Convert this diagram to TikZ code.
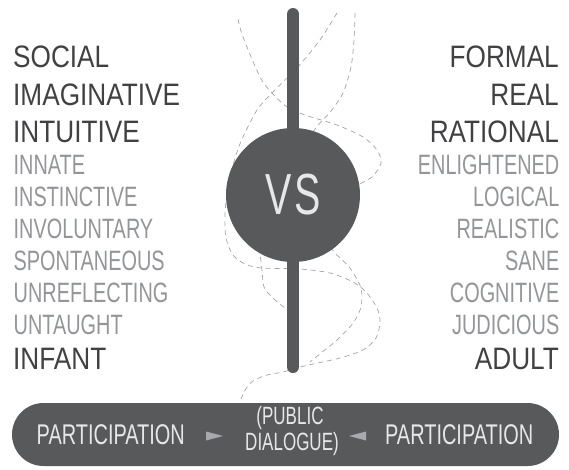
\documentclass[tikz,border=0pt]{standalone}
\usepackage{fontspec}
\usepackage{graphicx}
\setmainfont{Liberation Sans}
\definecolor{shapegray}{HTML}{58595B}
\definecolor{darktext}{HTML}{414042}
\definecolor{lighttext}{HTML}{939598}
\definecolor{vstext}{HTML}{E6E7E8}
\definecolor{dashgray}{HTML}{A3A3A3}
\definecolor{tricolor}{HTML}{A7A9AC}
\newcommand{\BigWord}[1]{\scalebox{0.845}[1]{#1}}
\newcommand{\SmallWord}[1]{\scalebox{0.71}[1]{#1}}
\newcommand{\PillWord}[1]{\scalebox{0.70}[1]{#1}}
\newcommand{\TinyWord}[1]{\scalebox{0.68}[1]{#1}}
\begin{document}
\begin{tikzpicture}[x=1pt,y=-1pt,
  bigword/.style={inner sep=0pt, text=darktext, font=\fontsize{31}{32}\selectfont},
  smallword/.style={inner sep=0pt, text=lighttext, font=\fontsize{28}{29}\selectfont},
  leftcol/.style={anchor=base west},
  rightcol/.style={anchor=base east},
  curve/.style={draw=dashgray, line width=0.7pt, dash pattern=on 5pt off 4pt},
  pill/.style={fill=shapegray, rounded corners=31.5pt, inner sep=0pt, minimum width=547pt, minimum height=63pt},
  pilltext/.style={inner sep=0pt, text=vstext, font=\fontsize{28.5}{29}\selectfont},
  pubtext/.style={inner sep=0pt, text=vstext, font=\fontsize{25}{26}\selectfont, anchor=base},
  disc/.style={circle, fill=shapegray, minimum size=134pt, inner sep=0pt, text=vstext, font=\fontsize{58}{60}\selectfont},
  bar/.style={draw=shapegray, line width=12pt, line cap=round}
]
\useasboundingbox (0,0) rectangle (569,469);

% dashed curves (behind)
\draw[curve] plot[smooth] coordinates {(238,19) (243,37) (260,77) (272,93) (287,107) (305,115) (337,125) (363,137) (377,150) (381,163) (372,177) (355,186)};
\draw[curve] plot[smooth] coordinates {(337,13) (320,40) (298,67) (287,78) (270,95) (257,110) (243,137) (236,155) (228,185) (225,215) (226,238) (233,255) (245,264) (262,268) (300,269) (330,273) (353,282) (366,292) (377,308) (380,322) (376,338) (363,350) (340,358) (313,364) (300,367) (283,372) (267,375) (253,381) (245,390) (240,402)};
\draw[curve] plot[smooth] coordinates {(355,13) (354,40) (351,67) (343,93) (331,111) (320,123) (308,138)};
\draw[curve] plot[smooth] coordinates {(255,240) (260,255) (262,270) (264,287) (273,298) (285,308) (293,313)};
\draw[curve] plot[smooth] coordinates {(325,240) (335,253) (350,268) (361,288) (361,307) (353,323) (337,340) (321,353) (310,362)};

% bar and disc
\coordinate (bartop) at (293,14);
\coordinate (barbot) at (293,367);
\draw[bar] (bartop) -- (barbot);
\node[disc] (vs) at (293,195) {\scalebox{0.68}[1]{V\kern4pt S}};

% left column
\node[bigword, leftcol] (l1) at (13,67) {\BigWord{SOCIAL}};
\node[bigword, leftcol] (l2) at (13,105) {\BigWord{IMAGINATIVE}};
\node[bigword, leftcol] (l3) at (13,142) {\BigWord{INTUITIVE}};
\node[smallword, leftcol] (l4) at (13.5,174) {\SmallWord{INNATE}};
\node[smallword, leftcol] (l5) at (13.5,206) {\SmallWord{INSTINCTIVE}};
\node[smallword, leftcol] (l6) at (13.5,238) {\SmallWord{INVOLUNTARY}};
\node[smallword, leftcol] (l7) at (13.5,270) {\SmallWord{SPONTANEOUS}};
\node[smallword, leftcol] (l8) at (13.5,302) {\SmallWord{UNREFLECTING}};
\node[smallword, leftcol] (l9) at (13.5,334) {\SmallWord{UNTAUGHT}};
\node[bigword, leftcol] (l10) at (13,369) {\BigWord{INFANT}};

% right column
\node[bigword, rightcol] (r1) at (559,67) {\BigWord{FORMAL}};
\node[bigword, rightcol] (r2) at (559,105) {\BigWord{REAL}};
\node[bigword, rightcol] (r3) at (559,142) {\BigWord{RATIONAL}};
\node[smallword, rightcol] (r4) at (559.5,174) {\SmallWord{ENLIGHTENED}};
\node[smallword, rightcol] (r5) at (559.5,206) {\SmallWord{LOGICAL}};
\node[smallword, rightcol] (r6) at (559.5,238) {\SmallWord{REALISTIC}};
\node[smallword, rightcol] (r7) at (559.5,270) {\SmallWord{SANE}};
\node[smallword, rightcol] (r8) at (559.5,302) {\SmallWord{COGNITIVE}};
\node[smallword, rightcol] (r9) at (559.5,334) {\SmallWord{JUDICIOUS}};
\node[bigword, rightcol] (r10) at (559,369) {\BigWord{ADULT}};

% bottom pill
\node[pill] (pill) at (285.5,434.5) {};
\node[pilltext, anchor=base west] (p1) at (36.5,444) {\PillWord{PARTICIPATION}};
\node[pilltext, anchor=base east] (p2) at (533.5,444) {\PillWord{PARTICIPATION}};
\node[pubtext] (pub1) at (290,424) {\TinyWord{(PUBLIC}};
\node[pubtext] (pub2) at (292,450) {\TinyWord{DIALOGUE)}};
\fill[tricolor] (206,431.5) -- (223,436) -- (206,440.5) -- cycle;
\fill[tricolor] (366,431.5) -- (349,436) -- (366,440.5) -- cycle;
\end{tikzpicture}
\end{document}
